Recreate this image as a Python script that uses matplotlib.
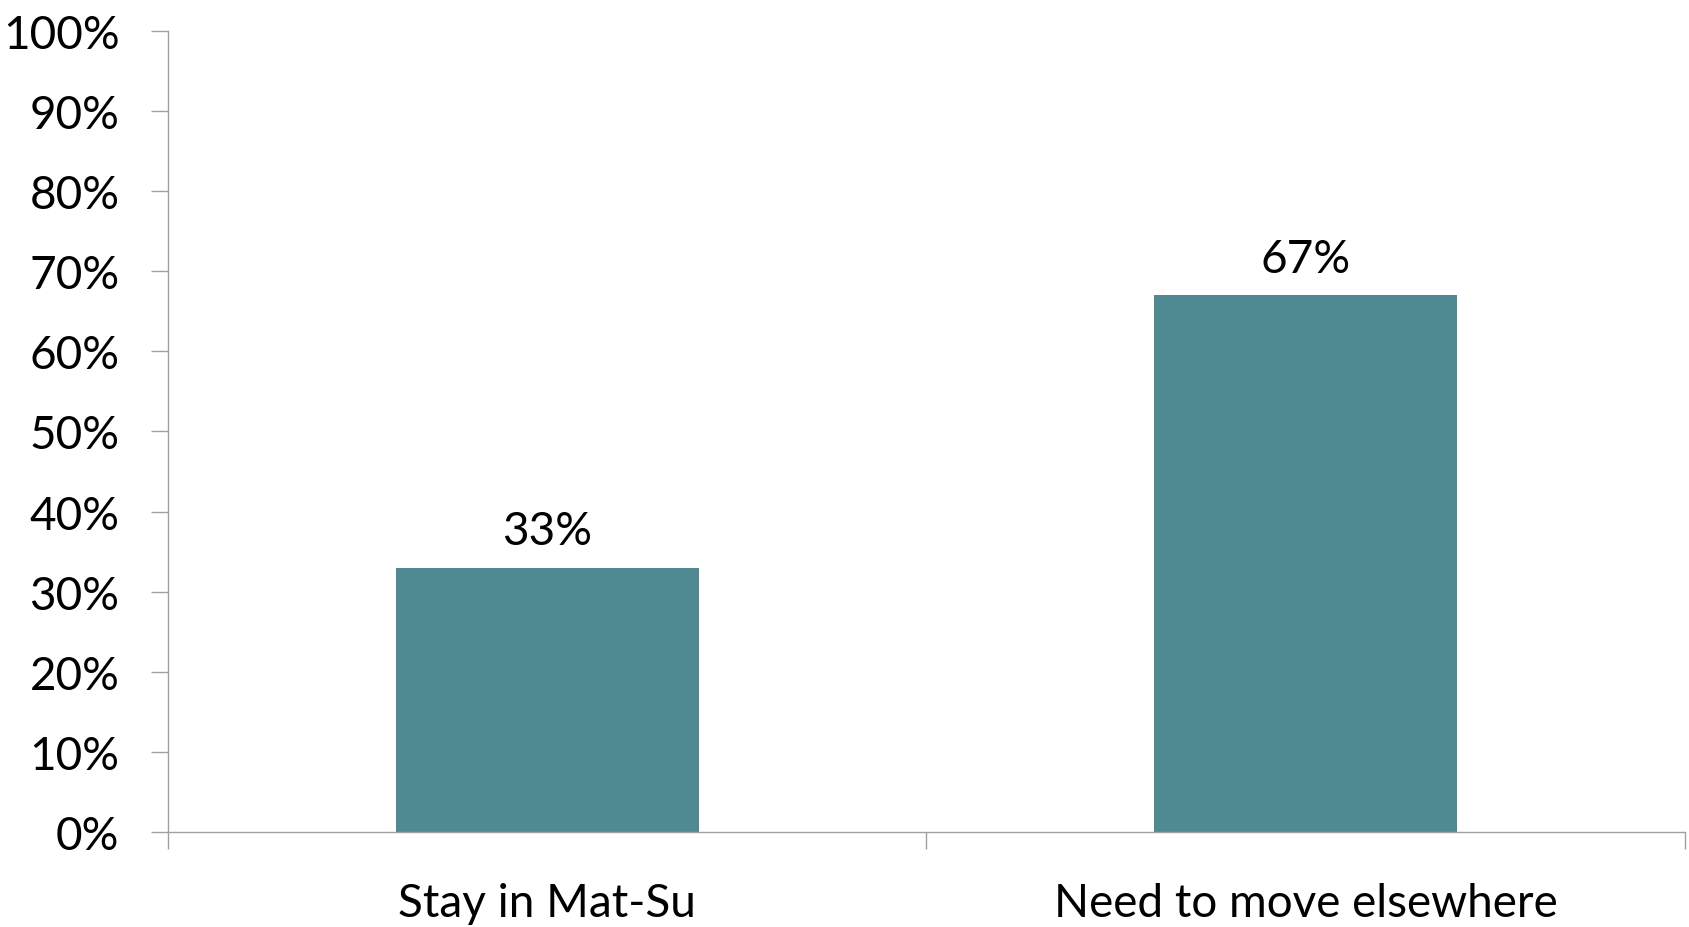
import numpy as np
import matplotlib
matplotlib.use("Agg")
from matplotlib import pyplot as plt

categories = ["Stay in Mat-Su", "Need to move elsewhere"]
values = [33, 67]
yticks = [0, 10, 20, 30, 40, 50, 60, 70, 80, 90, 100]

plt.rcParams['font.family'] = ['Lato', 'DejaVu Sans']

bar_color = '#4f8a92'
axis_color = '#a0a0a0'

fig = plt.figure(figsize=(16.9, 9.28), dpi=100)
ax = fig.add_axes([0.0994, 0.1024, 0.8976, 0.8631])

x = np.arange(len(categories))
bars = ax.bar(x, values, width=0.4, color=bar_color)

for b, v in zip(bars, values):
    ax.annotate('%d%%' % v, (b.get_x() + b.get_width() / 2, v),
                xytext=(0, 11), textcoords='offset points',
                ha='center', va='bottom', fontsize=33)

ax.set_xlim(-0.5, len(categories) - 0.5)
ax.set_ylim(0, 100)
ax.set_yticks(yticks)
ax.set_yticklabels(['%d%%' % t for t in yticks], fontsize=33)
ax.set_xticks(x)
ax.set_xticklabels(categories, fontsize=33)
ax.set_xticks(np.arange(len(categories) + 1) - 0.5, minor=True)

ax.tick_params(axis='y', length=12, width=1, color=axis_color, pad=23)
ax.tick_params(axis='x', which='major', length=0, pad=36)
ax.tick_params(axis='x', which='minor', length=12, width=1, color=axis_color)

for s in ['top', 'right']:
    ax.spines[s].set_visible(False)
for s in ['left', 'bottom']:
    ax.spines[s].set_color(axis_color)
    ax.spines[s].set_linewidth(1)

fig.savefig('out.png', dpi=100)
